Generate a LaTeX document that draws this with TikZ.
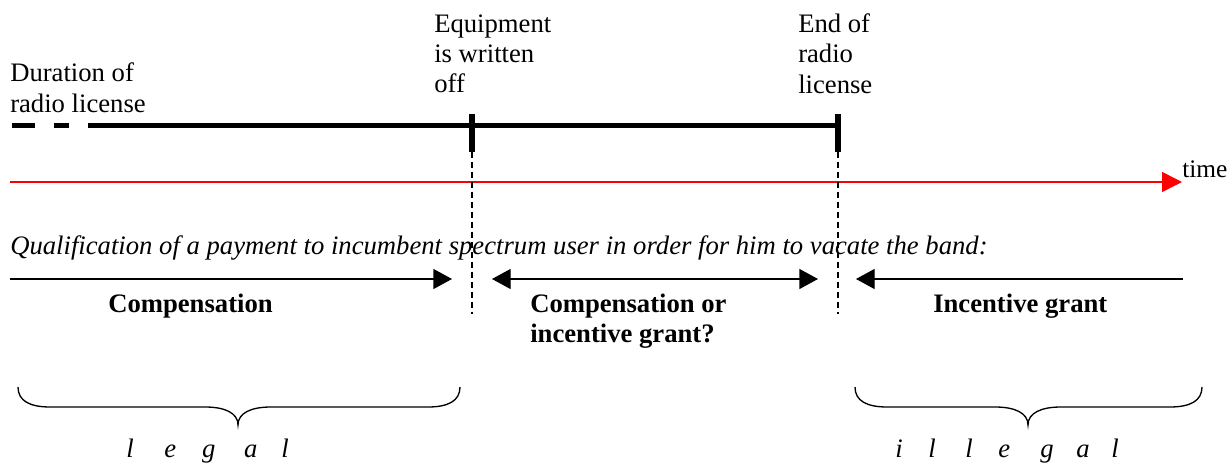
\documentclass[tikz,border=0pt]{standalone}
\usepackage{fontspec}
\setmainfont{Liberation Serif}
\usetikzlibrary{arrows.meta}
\begin{document}
\begin{tikzpicture}[x=0.75pt,y=-0.75pt,
  lbl/.style={font=\fontsize{20}{23}\selectfont, inner sep=0pt, align=left},
  itlbl/.style={font=\fontsize{20}{23}\selectfont\itshape, inner sep=0pt},
  bflbl/.style={font=\fontsize{20}{23}\selectfont\bfseries, inner sep=0pt, align=left},
  period/.style={line width=3.75pt},
  tickmark/.style={line width=4.3pt},
  vdash/.style={line width=0.8pt, dash pattern=on 4.5pt off 3pt},
  timeaxis/.style={red, line width=1.1pt, -{Triangle[length=15pt,width=15pt]}},
  span/.style={line width=1pt, {Triangle[length=14pt,width=15pt]}-{Triangle[length=14pt,width=15pt]}},
  rspan/.style={line width=1pt, -{Triangle[length=14pt,width=15pt]}},
  bracepath/.style={line width=1pt}
]
\path[use as bounding box] (0,0) rectangle (1229,463);

% upper labels
\node[lbl, anchor=base west] (dur) at (10,82) {Duration of};
\node[lbl, anchor=base west] (dur2) at (10,113) {radio license};
\node[lbl, anchor=base west] (eq) at (434,33) {Equipment};
\node[lbl, anchor=base west] (eq2) at (434,63) {is written};
\node[lbl, anchor=base west] (eq3) at (434,93) {off};
\node[lbl, anchor=base west] (en) at (798,33) {End of};
\node[lbl, anchor=base west] (en2) at (798,63) {radio};
\node[lbl, anchor=base west] (en3) at (798,94) {license};

% licence period
\coordinate (p0) at (12,126);
\coordinate (p1) at (35,126);
\coordinate (p2) at (54,126);
\coordinate (p3) at (69,126);
\coordinate (p4) at (88,126);
\coordinate (w) at (472,126);
\coordinate (e) at (838,126);
\draw[period] (p0) -- (p1);
\draw[period] (p2) -- (p3);
\draw[period] (p4) -- (w) -- (e);
\coordinate (wt) at (472,114);
\coordinate (wb) at (472,152);
\coordinate (et) at (838,114);
\coordinate (eb) at (838,152);
\draw[tickmark] (wt) -- (wb);
\draw[tickmark] (et) -- (eb);

% time axis
\coordinate (t0) at (10,182);
\coordinate (t1) at (1182,182);
\draw[timeaxis] (t0) -- (t1);
\node[lbl, font=\fontsize{19}{23}\selectfont, anchor=base west] (time) at (1182,178) {time};

% qualification line
\node[itlbl, anchor=base west] (qual) at (10,255) {Qualification of a payment to incumbent spectrum user in order for him to vacate the band:};

% dashed verticals
\coordinate (wd) at (472,314);
\coordinate (ed) at (838,314);
\draw[vdash] (wb) -- (wd);
\draw[vdash] (eb) -- (ed);

% spans
\coordinate (a0) at (10,279);
\coordinate (a1) at (452,279);
\coordinate (b0) at (492,279);
\coordinate (b1) at (818,279);
\coordinate (c0) at (1183,279);
\coordinate (c1) at (856,279);
\draw[rspan] (a0) -- (a1);
\draw[span] (b0) -- (b1);
\draw[rspan] (c0) -- (c1);

\node[bflbl, anchor=base west] (comp) at (108,313) {Compensation};
\node[bflbl, anchor=base west] (cig) at (530,313) {Compensation or};
\node[bflbl, anchor=base west] (cig2) at (530,343) {incentive grant?};
\node[bflbl, anchor=base west] (inc) at (933,313) {Incentive grant};

% braces
\draw[bracepath] (18,387) .. controls (18,401) and (30,407) .. (50,407)
  -- (205,407) .. controls (225,407) and (238,413) .. (238,425)
  .. controls (238,413) and (251,407) .. (271,407)
  -- (428,407) .. controls (448,407) and (460,401) .. (460,387);
\draw[bracepath] (855,387) .. controls (855,401) and (867,407) .. (887,407)
  -- (995,407) .. controls (1015,407) and (1028,413) .. (1028,425)
  .. controls (1028,413) and (1041,407) .. (1061,407)
  -- (1170,407) .. controls (1190,407) and (1202,401) .. (1202,387);

% spaced words
\node[itlbl, anchor=base west] (legal) at (126,458) {l\hspace{23pt}e\hspace{19.5pt}g\hspace{21.5pt}a\hspace{17.8pt}l};
\node[itlbl, anchor=base west] (illegal) at (895,458) {i\hspace{19.2pt}l\hspace{22.2pt}l\hspace{19.2pt}e\hspace{22.6pt}g\hspace{17pt}a\hspace{16.3pt}l};
\end{tikzpicture}
\end{document}
